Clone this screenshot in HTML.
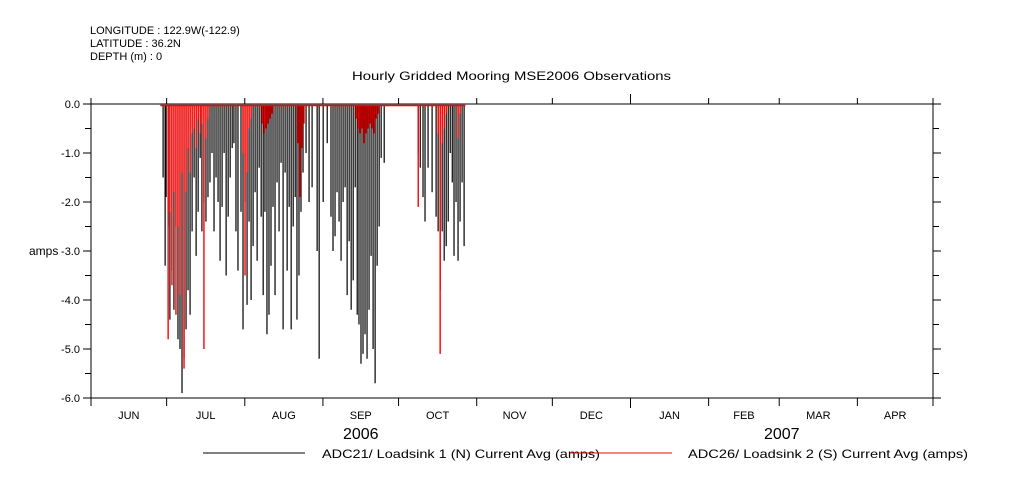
<!DOCTYPE html>
<html><head><meta charset="utf-8"><style>
body{margin:0;background:#fff;}
svg{display:block;font-family:"Liberation Sans",sans-serif;}
</style></head><body>
<svg id="chart" width="1009" height="504" viewBox="0 0 1009 504">
<g font-size="11" fill="#000">
<text x="90" y="34">LONGITUDE : 122.9W(-122.9)</text>
<text x="90" y="47">LATITUDE : 36.2N</text>
<text x="90" y="60">DEPTH (m) : 0</text>
</g>
<text x="352" y="80" textLength="319" lengthAdjust="spacingAndGlyphs" font-size="12">Hourly Gridded Mooring MSE2006 Observations</text>
<text x="29" y="255" font-size="12">amps</text>
<g id="axes"></g>
<g id="marks"></g>
<g font-size="12">
<line x1="203" y1="453" x2="305" y2="453" stroke="#000"/>
<text x="322" y="458" textLength="278" lengthAdjust="spacingAndGlyphs">ADC21/ Loadsink 1 (N) Current Avg (amps)</text>
<line x1="570" y1="453" x2="672" y2="453" stroke="#f00"/>
<text x="688" y="458" textLength="280" lengthAdjust="spacingAndGlyphs">ADC26/ Loadsink 2 (S) Current Avg (amps)</text>
</g>
</svg>
<script>
const monthLabels=["JUN","JUL","AUG","SEP","OCT","NOV","DEC","JAN","FEB","MAR","APR"];
const monthStarts=[0,30,61,92,122,153,183,214,245,273,304,334];
const yTicks=[0,-1,-2,-3,-4,-5,-6];
const yTickLabels=["0.0","-1.0","-2.0","-3.0","-4.0","-5.0","-6.0"];
const blackDays=[28.6,29.4,29.8,30.6,31.3,32.1,32.9,33.7,34.5,35.3,36.1,36.9,37.7,38.5,39.3,40.1,40.9,41.7,42.5,43.3,44.0,44.8,45.6,46.4,47.2,48.0,48.8,49.6,50.4,51.2,52.0,52.8,53.6,54.4,55.2,56.0,56.7,57.5,58.3,59.5,60.3,61.1,61.9,62.7,63.5,64.3,65.1,65.9,66.7,67.5,68.3,69.0,69.8,70.6,71.4,72.2,73.0,73.8,74.6,75.4,76.2,77.0,77.8,78.6,79.4,80.2,81.0,81.7,82.5,83.3,84.1,85.3,86.5,87.7,89.7,90.5,92.1,93.7,95.2,96.0,96.8,97.6,98.4,99.2,100.0,100.8,101.6,102.4,103.2,104.0,104.8,105.6,106.3,107.1,107.9,108.7,109.5,110.3,111.1,111.9,112.7,113.5,114.3,115.1,116.3,129.8,130.6,131.7,132.5,133.7,135.3,136.9,137.7,138.5,139.3,140.1,140.9,141.7,142.5,143.3,144.0,144.8,145.6,146.4,147.2,148.0];
const blackVals=[-1.5,-3.3,-1.9,-2.5,-4.4,-3.4,-4.2,-2.5,-4.8,-5.0,-5.9,-5.2,-4.6,-3.8,-4.3,-2.6,-1.5,-3.1,-2.2,-1.1,-2.6,-2.0,-2.4,-1.9,-1.6,-1.0,-2.6,-1.5,-2.0,-3.2,-2.1,-1.0,-3.5,-2.3,-1.5,-0.9,-0.8,-2.6,-3.4,-2.2,-4.6,-2.0,-4.1,-2.4,-4.0,-2.9,-1.8,-3.2,-1.3,-2.3,-3.9,-2.2,-4.7,-4.3,-3.3,-2.1,-3.9,-1.6,-2.6,-1.2,-4.6,-1.4,-3.4,-2.1,-4.6,-2.5,-1.9,-4.4,-3.5,-2.2,-1.4,-1.0,-2.0,-1.7,-3.0,-5.2,-2.0,-0.8,-2.3,-3.0,-2.7,-1.8,-2.4,-3.2,-2.0,-1.7,-3.9,-2.8,-4.2,-3.6,-1.7,-4.3,-4.5,-5.3,-5.1,-4.7,-5.2,-4.2,-3.1,-5.0,-5.7,-3.3,-2.5,-1.1,-1.2,-1.0,-1.3,-1.9,-2.4,-1.3,-1.8,-2.3,-2.6,-3.8,-2.6,-3.2,-2.9,-2.4,-1.0,-1.6,-3.1,-2.0,-3.2,-2.4,-1.6,-2.9];
const redDays=[30.6,31.3,32.1,32.9,33.7,34.5,35.3,36.1,36.9,37.7,38.5,39.3,40.1,40.9,41.7,42.5,43.3,44.0,44.8,45.6,46.4,60.3,61.1,61.9,62.7,63.5,67.9,68.7,69.4,70.2,71.0,71.8,82.1,82.9,83.7,84.5,105.2,106.0,106.7,107.5,108.3,109.1,109.9,110.7,111.5,112.3,113.1,113.9,129.8,137.7,138.5,139.3,140.1,140.9,145.6,146.4];
const redVals=[-4.8,-2.2,-3.7,-1.8,-4.3,-2.5,-3.9,-1.4,-5.4,-1.8,-0.9,-1.4,-0.6,-0.5,-0.9,-0.3,-0.6,-0.4,-5.0,-0.7,-0.3,-1.0,-3.5,-1.4,-0.5,-0.3,-0.4,-0.6,-0.5,-0.4,-0.3,-0.2,-0.8,-1.9,-0.9,-0.4,-0.3,-0.5,-0.6,-0.5,-0.8,-0.6,-0.5,-0.4,-0.5,-0.6,-0.3,-0.2,-2.1,-0.6,-5.1,-0.8,-0.5,-0.2,-0.7,-0.2];
const redBase=[27.5,148.5];

const NS="http://www.w3.org/2000/svg";
const L=91,R=933,T=104,B=398;
const xS=d=>L+d*(R-L)/334;
const yS=v=>T+(0-v)*(B-T)/6;
function mk(tag,attrs,parent){const e=document.createElementNS(NS,tag);for(const k in attrs)e.setAttribute(k,attrs[k]);parent.appendChild(e);return e;}
const ax=document.getElementById('axes'),mg=document.getElementById('marks');
let f=mk('rect',{x:L,y:T,width:R-L,height:B-T,fill:'none',stroke:'#000','stroke-width':1},ax);


for(let v=0;v>=-6;v-=0.5){
  const y=yS(v);const major=Number.isInteger(v);
  let t=mk('line',{x1:L-(major?8:6),y1:y,x2:L,y2:y,stroke:'#000'},ax);
  
  
  let t2=mk('line',{x1:R,y1:y,x2:R+(major?8:6),y2:y,stroke:'#000'},ax);
  
  
}
yTicks.forEach((v,i)=>{
  let t=mk('text',{x:L-11,y:yS(v)+4,'text-anchor':'end','font-size':11},ax);
  t.textContent=yTickLabels[i];
  
  
});
monthStarts.forEach((d,i)=>{
  const x=xS(d);
  let t=mk('line',{x1:x,y1:B,x2:x,y2:B+(i===7?10:8),stroke:'#000'},ax);
  
  
  let tt=mk('line',{x1:x,y1:T,x2:x,y2:T-(i===7?10:6),stroke:'#000'},ax);
  
  
});
monthLabels.forEach((m,i)=>{
  const x=(xS(monthStarts[i])+xS(monthStarts[i+1]))/2;
  let t=mk('text',{x:x,y:419,'text-anchor':'middle','font-size':11},ax);
  t.textContent=m;
  
  
});
[["2006",(xS(0)+xS(214))/2],["2007",(xS(214)+xS(334))/2]].forEach(([s,x])=>{
  let t=mk('text',{x:x,y:439,'text-anchor':'middle','font-size':16},ax);
  t.textContent=s;
  
  
});
blackDays.forEach((d,i)=>{
  let l=mk('line',{x1:xS(d),y1:yS(0)+1,x2:xS(d),y2:yS(blackVals[i]),stroke:'#000','stroke-width':1.2},mg);
  
  
});
let rb=mk('line',{x1:xS(redBase[0]),y1:yS(-0.03),x2:xS(redBase[1]),y2:yS(-0.03),stroke:'#f00','stroke-width':1.5},mg);


redDays.forEach((d,i)=>{
  let l=mk('line',{x1:xS(d),y1:yS(0)+1,x2:xS(d),y2:yS(redVals[i]),stroke:'#f00','stroke-width':1.4},mg);
  
  
});
</script>
</body></html>
